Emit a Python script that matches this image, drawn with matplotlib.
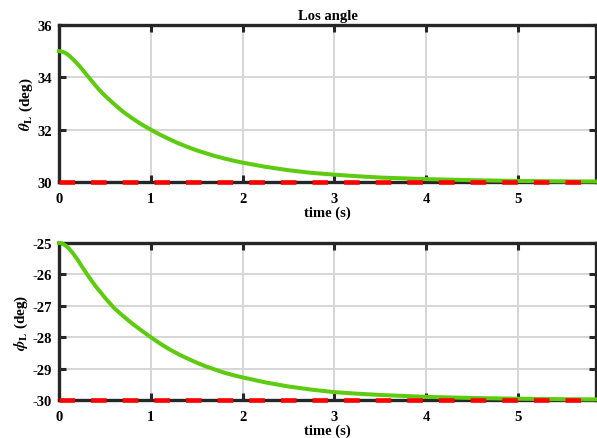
import matplotlib
matplotlib.use("Agg")
import matplotlib.pyplot as plt

# Data
t = [0.0, 0.025, 0.05, 0.075, 0.1, 0.15, 0.2, 0.25, 0.3, 0.35, 0.4, 0.45, 0.5,
     0.6, 0.7, 0.8, 0.9, 1.0, 1.1, 1.2, 1.3, 1.4, 1.5, 1.6, 1.7, 1.8, 1.9, 2.0,
     2.25, 2.5, 2.75, 3.0, 3.25, 3.5, 3.75, 4.0, 4.5, 5.0, 5.5, 5.85]
theta_L = [35.0, 34.99, 34.96, 34.92, 34.86, 34.7, 34.52, 34.32, 34.1, 33.89,
           33.68, 33.48, 33.3, 32.98, 32.68, 32.43, 32.2, 32.0, 31.81, 31.64,
           31.48, 31.34, 31.21, 31.1, 30.99, 30.9, 30.815, 30.74,
           30.58, 30.45, 30.35, 30.28, 30.22, 30.17, 30.14, 30.11, 30.07, 30.04,
           30.025, 30.02]
phi_L = [-25.0, -25.01, -25.04, -25.09, -25.15, -25.32, -25.52, -25.75, -25.97,
         -26.18, -26.38, -26.56, -26.74, -27.07, -27.33, -27.57, -27.79, -28.0,
         -28.2, -28.38, -28.54, -28.68, -28.81, -28.93, -29.03, -29.13, -29.21,
         -29.28, -29.44, -29.57, -29.67, -29.75, -29.8, -29.84, -29.87, -29.9,
         -29.935, -29.96, -29.975, -29.98]
theta_ref = 30.0
phi_ref = -30.0

xlim = (0, 5.85)
xticks = [0, 1, 2, 3, 4, 5]
theta_ticks = [30, 32, 34, 36]
phi_ticks = [-30, -29, -28, -27, -26, -25]

plt.rcParams['font.family'] = ['Liberation Serif', 'DejaVu Serif']
plt.rcParams['font.weight'] = 'bold'
plt.rcParams['mathtext.fontset'] = 'stix'
plt.rcParams['axes.unicode_minus'] = False

green = '#5fcb10'
red = '#ff0000'
spine_c = '#262626'
FS = 10.5

fig = plt.figure(figsize=(5.97, 4.39), dpi=100)
ax1 = fig.add_axes([59/597, 1-183/439, 537/597, 157/439])
ax2 = fig.add_axes([59/597, 1-401/439, 537/597, 157/439])

def style(ax, yticks, ylim):
    ax.set_xlim(*xlim)
    ax.set_ylim(*ylim)
    ax.set_xticks(xticks)
    ax.set_yticks(yticks)
    ax.grid(True, color='#d6d6d6', linewidth=1.4)
    ax.set_axisbelow(True)
    for s in ax.spines.values():
        s.set_linewidth(2.4)
        s.set_color(spine_c)
    ax.tick_params(direction='in', length=5, width=2.2, color=spine_c,
                   top=True, right=True, labelsize=FS)
    ax.tick_params(axis='x', pad=7)
    ax.tick_params(axis='y', pad=5)
    for lab in ax.get_xticklabels() + ax.get_yticklabels():
        lab.set_fontweight('bold')
    ax.set_xlabel('time (s)', fontsize=FS, fontweight='bold', labelpad=0.5)

dash = (0, (3.4, 3.5))
LW_G = 2.9
LW_R = 3.3

ax1.plot(t, theta_L, color=green, linewidth=LW_G, zorder=3, clip_on=False)
ax1.plot(xlim, [theta_ref, theta_ref], color=red, linewidth=LW_R, zorder=4,
         linestyle=dash, clip_on=False, dash_capstyle='butt')
style(ax1, theta_ticks, (30, 36))
ax1.set_title('Los angle', fontsize=FS, fontweight='bold', pad=4)
ax1.set_ylabel(r'$\theta_{\mathbf{L}}$ (deg)', fontsize=FS + 0.5, fontweight='bold',
               labelpad=2)

ax2.plot(t, phi_L, color=green, linewidth=LW_G, zorder=3, clip_on=False)
ax2.plot(xlim, [phi_ref, phi_ref], color=red, linewidth=LW_R, zorder=4,
         linestyle=dash, clip_on=False, dash_capstyle='butt')
style(ax2, phi_ticks, (-30, -25))
ax2.set_ylabel(r'$\phi_{\mathbf{L}}$ (deg)', fontsize=FS + 0.5, fontweight='bold',
               labelpad=2)

fig.savefig('out.png', dpi=100)
